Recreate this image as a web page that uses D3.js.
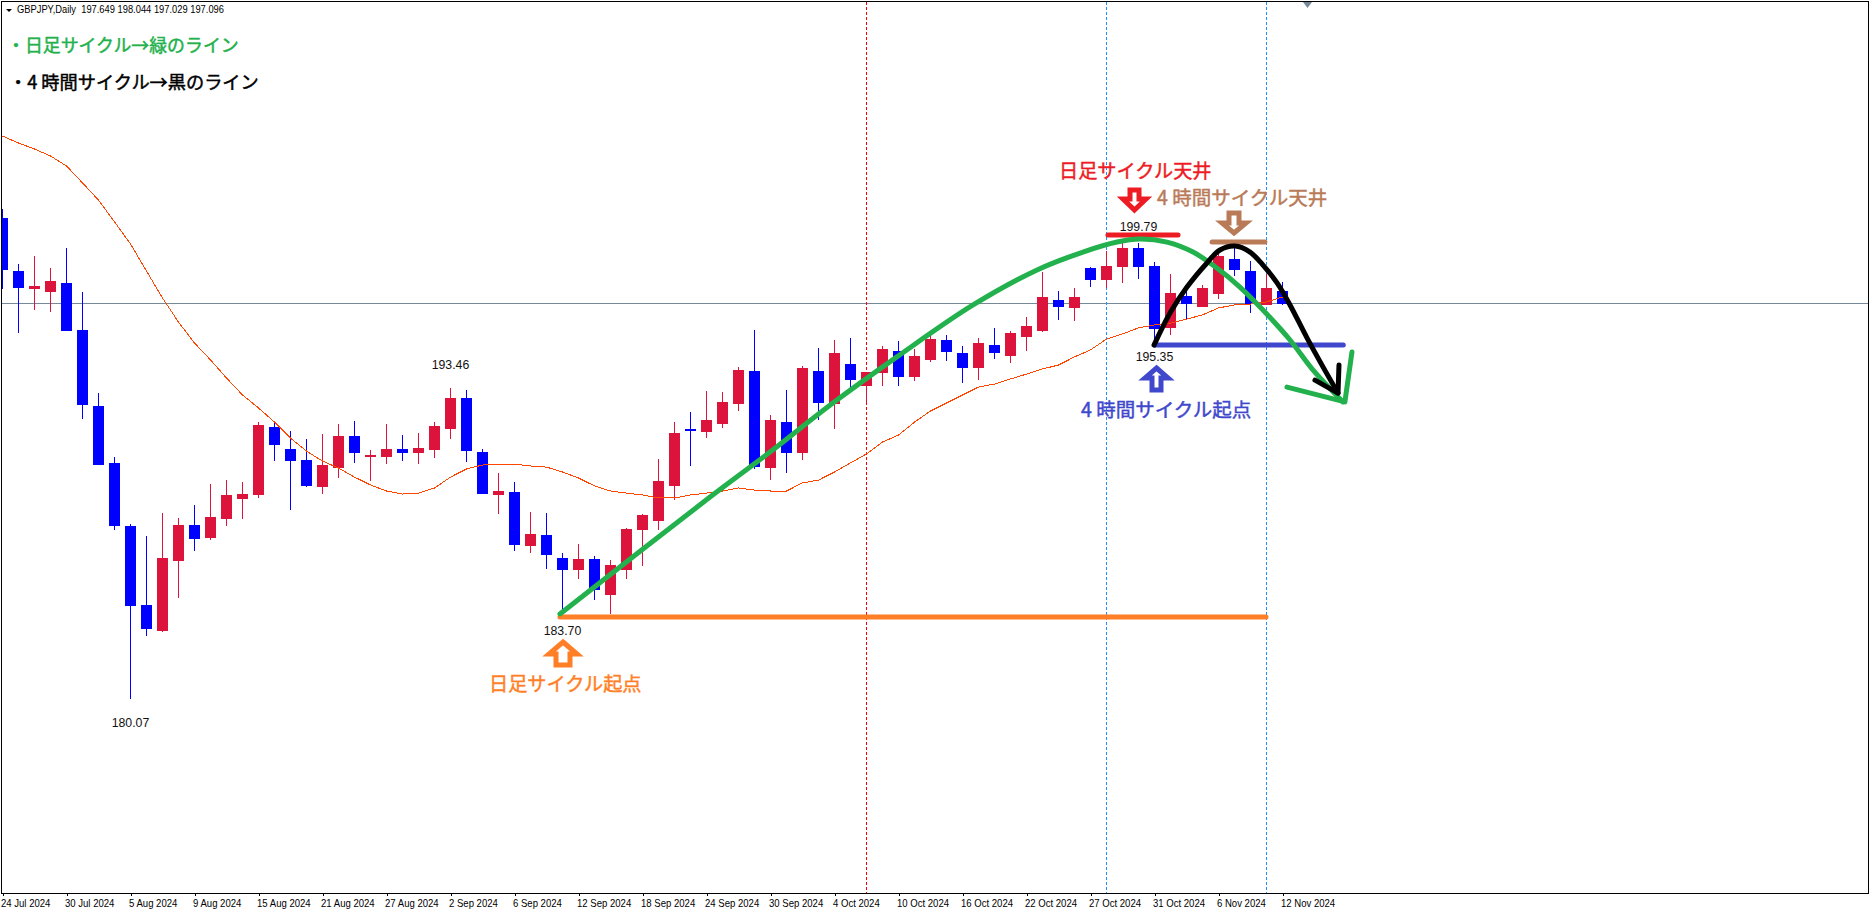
<!DOCTYPE html>
<html lang="ja">
<head>
<meta charset="utf-8">
<script src="https://cdn.jsdelivr.net/npm/d3@7"></script>
<style>
html,body{margin:0;padding:0;background:#fff;overflow:hidden}
svg{display:block}
.jp{font-family:"Noto Sans CJK JP","Noto Sans",sans-serif;font-weight:400;stroke-width:.45px}
.px{font-family:"Liberation Sans",Arial,sans-serif;font-size:12.3px;fill:#111}
.axis text{font-family:"Liberation Sans",Arial,sans-serif;fill:#000}
</style>
</head>
<body>
<div id="chart"></div>
<script>
// Daily GBPJPY candles, one entry per trading day, oldest first
const opens = [200.79,198.50,197.73,197.60,197.99,195.96,192.68,190.23,187.51,184.11,182.99,186.00,187.55,186.99,187.81,188.68,188.85,191.78,190.83,190.36,189.19,190.01,191.39,190.49,190.49,190.83,190.66,190.79,191.69,193.03,190.70,188.85,188.98,186.65,187.12,186.13,185.62,186.09,184.54,185.62,187.34,187.73,189.24,191.69,191.56,191.91,192.77,194.19,190.01,191.99,190.66,194.19,192.77,194.49,193.55,194.11,195.05,193.93,194.67,195.53,194.97,194.32,195.31,194.84,195.66,195.92,197.25,196.91,198.63,198.12,198.68,199.49,198.72,196.05,197.43,196.95,197.51,199.02,198.50,197.04,197.649];
const highs = [201.18,198.80,199.15,198.63,199.49,197.60,193.24,190.49,187.60,187.08,188.07,187.86,188.42,189.32,189.49,189.41,191.99,191.99,191.61,191.26,191.48,191.91,192.04,190.79,191.91,191.43,191.52,191.99,193.46,193.37,190.83,189.80,189.41,188.12,188.07,186.35,186.74,186.22,186.05,187.43,188.03,190.40,191.99,192.43,193.33,193.29,194.37,195.96,192.30,193.37,194.41,195.18,195.53,195.62,194.15,195.27,195.49,195.14,195.74,195.74,195.27,195.62,196.05,195.92,196.52,198.46,197.64,197.77,198.68,199.37,199.79,199.71,198.89,198.37,197.68,197.90,199.41,199.62,198.93,198.37,198.044];
const lows = [197.73,195.83,196.82,196.74,195.92,192.12,190.14,187.34,180.07,182.77,182.94,184.41,186.43,186.91,187.51,187.81,188.72,190.31,188.20,189.19,188.89,189.58,190.23,189.45,190.18,190.31,190.18,190.44,191.26,190.27,188.89,188.03,186.43,186.35,185.66,183.70,185.23,184.32,183.72,185.23,185.79,187.34,188.63,190.10,191.30,191.74,192.47,189.97,189.49,189.80,190.36,192.08,191.69,193.37,192.86,193.55,193.55,193.76,194.58,194.62,193.68,193.80,194.71,194.54,195.05,195.87,196.39,196.35,197.81,197.77,197.99,198.16,195.35,195.74,196.39,196.95,197.30,198.29,196.69,197.04,197.029];
const closes = [198.55,197.77,197.86,198.07,195.92,192.73,190.14,187.51,184.06,183.07,186.13,187.55,186.95,187.90,188.85,188.89,191.87,191.00,190.31,189.24,190.14,191.39,190.66,190.57,190.83,190.66,190.87,191.82,193.03,190.74,188.89,189.02,186.69,187.17,186.26,185.62,186.09,184.75,185.83,187.38,187.99,189.45,191.52,191.61,192.08,192.86,194.24,190.05,192.08,190.66,194.32,192.81,194.97,193.80,194.15,195.14,193.93,194.84,195.57,195.01,194.32,195.40,194.97,195.83,196.13,197.38,196.95,197.38,198.12,198.72,199.49,198.68,196.00,197.55,197.08,197.77,199.15,198.55,197.08,197.77,197.096];
const maValues = [204.32,204.02,203.76,203.46,203.03,202.30,201.56,200.62,199.67,198.50,197.34,196.30,195.40,194.67,193.89,193.16,192.60,191.99,191.30,190.74,190.31,190.01,189.62,189.28,189.02,188.89,188.93,189.15,189.62,189.97,190.14,190.18,190.18,190.10,190.05,189.84,189.58,189.24,189.02,188.93,188.85,188.72,188.72,188.85,188.93,189.02,189.15,189.06,189.02,189.02,189.37,189.49,189.84,190.23,190.62,191.13,191.43,191.99,192.47,192.81,193.16,193.50,193.63,193.85,194.06,194.28,194.45,194.80,195.10,195.57,195.79,196.05,196.18,196.26,196.43,196.61,196.91,197.04,197.08,197.17,197.38];
const tickLabels = ["24 Jul 2024","30 Jul 2024","5 Aug 2024","9 Aug 2024","15 Aug 2024","21 Aug 2024","27 Aug 2024","2 Sep 2024","6 Sep 2024","12 Sep 2024","18 Sep 2024","24 Sep 2024","30 Sep 2024","4 Oct 2024","10 Oct 2024","16 Oct 2024","22 Oct 2024","27 Oct 2024","31 Oct 2024","6 Nov 2024","12 Nov 2024"];
const barsPerTick = 4;
const currentPrice = 197.096;
const redVerticals = [54];
const blueVerticals = [69, 79];
// Hand-drawn cycle curves as [bar index, price]
const greenCurve = [[34.84,183.72],[44.22,188.76],[47.97,190.70],[51.9,192.81],[55.9,194.80],[60.66,197.04],[64.66,198.55],[67.53,199.32],[69.66,199.75],[71.09,199.88],[72.78,199.75],[74.41,199.32],[75.9,198.63],[77.34,197.81],[78.78,196.82],[80.47,195.53],[81.9,194.24],[83.78,192.86]];
const greenHead = [[80.28,193.50],[83.9,192.86],[84.34,195.01]];
const blackCurve = [[71.97,195.31],[72.97,196.69],[74.03,197.81],[75.28,198.85],[76.09,199.41],[77.03,199.58],[77.97,199.32],[78.78,198.76],[79.66,197.99],[80.47,197.04],[81.53,195.62],[82.53,194.37],[83.47,193.24]];
const blackHead = [[82.03,193.80],[83.47,193.24],[83.53,194.45]];
const levelLines = [
  {from:34.84,to:78.97,price:183.59,color:"#ff7f27"},
  {from:69.09,to:73.47,price:200.05,color:"#ed1c24"},
  {from:75.6,to:78.9,price:199.75,color:"#b97a57"},
  {from:72.0,to:83.8,price:195.31,color:"#3f48cc"}
];
const priceLabels = [
  {text:"180.07",bar:8,price:180.07,dy:28},
  {text:"193.46",bar:28,price:193.46,dy:-19},
  {text:"183.70",bar:35,price:183.70,dy:21},
  {text:"199.79",bar:71,price:199.79,dy:-10},
  {text:"195.35",bar:72,price:195.35,dy:17}
];

const W = 1870, H = 910, left = 2, top_ = 2, right_ = 1868, bottom = 893;
const svg = d3.select("#chart").append("svg").attr("width",W).attr("height",H).attr("viewBox",`0 0 ${W} ${H}`);
const x = d3.scaleLinear().domain([0,80]).range([2.5,1282.5]);
const y = d3.scaleLinear().domain([193.46,180.07]).range([388,698.65]);
const bars = closes.map((c,i)=>({i,o:opens[i],h:highs[i],l:lows[i],c}));
const bull = "#dc143c", bear = "#0000ff";

svg.append("defs").append("clipPath").attr("id","plot").append("rect").attr("x",left).attr("y",top_).attr("width",right_-left).attr("height",bottom-top_);
const plot = svg.append("g").attr("clip-path","url(#plot)");

// current price line
plot.append("line").attr("x1",left).attr("x2",right_).attr("y1",Math.floor(y(currentPrice))+.5).attr("y2",Math.floor(y(currentPrice))+.5)
  .attr("stroke","#778899").attr("stroke-width",1).attr("shape-rendering","crispEdges");

// vertical dotted lines
const vert = (arr,color)=>plot.append("g").selectAll("line").data(arr).join("line")
  .attr("x1",d=>Math.floor(x(d))+.5).attr("x2",d=>Math.floor(x(d))+.5).attr("y1",top_).attr("y2",bottom)
  .attr("stroke",color).attr("stroke-width",1).attr("stroke-dasharray","3,2").attr("shape-rendering","crispEdges");
vert(redVerticals,"#ff0000");
vert(blueVerticals,"#1e90ff");

// candles
const col = d=>d.c>=d.o?bull:bear;
const cg = plot.append("g").attr("shape-rendering","crispEdges");
cg.selectAll("rect.w").data(bars).join("rect").attr("class","w")
  .attr("x",d=>Math.floor(x(d.i))).attr("width",1)
  .attr("y",d=>Math.round(y(d.h))).attr("height",d=>Math.max(1,Math.round(y(d.l))-Math.round(y(d.h))))
  .attr("fill",col);
cg.selectAll("rect.b").data(bars).join("rect").attr("class","b")
  .attr("x",d=>Math.floor(x(d.i))-5).attr("width",11)
  .attr("y",d=>Math.round(y(Math.max(d.o,d.c)))).attr("height",d=>Math.max(1,Math.round(y(Math.min(d.o,d.c)))-Math.round(y(Math.max(d.o,d.c)))))
  .attr("fill",col);

// moving average
plot.append("path").datum(maValues).attr("fill","none").attr("stroke","#ff4500").attr("stroke-width",1).attr("shape-rendering","crispEdges")
  .attr("d",d3.line().x((d,i)=>x(i)).y(d=>y(d)));

// axis
const axis = d3.axisBottom(x).tickValues(tickLabels.map((_,i)=>i*barsPerTick)).tickFormat((d,i)=>tickLabels[i]).tickSize(3).tickSizeOuter(0);
const ag = svg.append("g").attr("class","axis").attr("transform",`translate(0,${bottom})`).call(axis);
ag.select(".domain").remove();
ag.selectAll("line").attr("stroke","#000").attr("shape-rendering","crispEdges");
ag.selectAll("text").attr("text-anchor","start").attr("dx",-2).attr("y",7).attr("dy","0.71em").attr("font-size",10.5)
  .each(function(){ d3.select(this).attr("lengthAdjust","spacingAndGlyphs").attr("textLength",this.getComputedTextLength()*0.91); });

// frame
svg.append("rect").attr("x",1.5).attr("y",1.5).attr("width",right_-1.5+0).attr("height",bottom-1.5).attr("fill","none").attr("stroke","#000").attr("stroke-width",1).attr("shape-rendering","crispEdges");

// level lines
const lv = svg.append("g");
lv.selectAll("line").data(levelLines).join("line")
  .attr("x1",d=>x(d.from)).attr("x2",d=>x(d.to)).attr("y1",d=>y(d.price)).attr("y2",d=>y(d.price))
  .attr("stroke",d=>d.color).attr("stroke-width",5).attr("stroke-linecap","round");

// hand-drawn curves
const lineP = d3.line().x(d=>x(d[0])).y(d=>y(d[1]));
const lineC = d3.line().x(d=>x(d[0])).y(d=>y(d[1])).curve(d3.curveCatmullRom.alpha(0.5));
const cur = (data,gen,color)=>svg.append("path").datum(data).attr("fill","none").attr("stroke",color).attr("stroke-width",5)
  .attr("stroke-linecap","round").attr("stroke-linejoin","round").attr("d",gen);
cur(greenCurve,lineC,"#22b14c");
cur(greenHead,lineP,"#22b14c");
cur(blackCurve,lineC,"#000");
cur(blackHead,lineP,"#000");

// block arrows
function blockArrow(cx,tip,wing,base,hw,hs,color){
  const p = d3.path();
  p.moveTo(cx,tip); p.lineTo(cx+hw,wing); p.lineTo(cx+hs,wing); p.lineTo(cx+hs,base);
  p.lineTo(cx-hs,base); p.lineTo(cx-hs,wing); p.lineTo(cx-hw,wing); p.closePath();
  svg.append("path").attr("d",p.toString()).attr("fill","#fff").attr("stroke",color).attr("stroke-width",5).attr("stroke-linejoin","miter");
}
blockArrow(1134.5,210,199,190,11.5,4.5,"#ed1c24");
blockArrow(1234,233,223,213,12,5,"#b97a57");
blockArrow(1156.5,368,378,390,11.5,4.5,"#3f48cc");
blockArrow(563,642,654,665,14,7,"#ff7f27");

// text
svg.append("g").selectAll("text").data(priceLabels).join("text").attr("class","px")
  .attr("text-anchor","middle").attr("x",d=>x(d.bar)).attr("y",d=>y(d.price)+d.dy).text(d=>d.text);

svg.append("path").attr("d","M6,9L12,9L9,12Z").attr("fill","#000");
svg.append("text").attr("x",17).attr("y",13).attr("font-family","Liberation Sans").attr("font-size",10.5).attr("textLength",207).attr("lengthAdjust","spacingAndGlyphs").style("white-space","pre").attr("fill","#000").text("GBPJPY,Daily  197.649 198.044 197.029 197.096");
svg.append("path").attr("d","M1303,2L1312,2L1307.5,8Z").attr("fill","#778899");

const notes = [
  {t:"・日足サイクル→緑のライン",x:7,y:52,c:"#22b14c",s:17.9},
  {t:"・4 時間サイクル→黒のライン",x:9,y:89,c:"#000",s:18.2},
  {t:"日足サイクル起点",x:489,y:691,c:"#ff7f27",s:19.2},
  {t:"日足サイクル天井",x:1059,y:178,c:"#ed1c24",s:19.2},
  {t:"4 時間サイクル天井",x:1157,y:205,c:"#b97a57",s:19.5},
  {t:"4 時間サイクル起点",x:1081,y:417,c:"#3f48cc",s:19.5}
];
svg.append("g").selectAll("text").data(notes).join("text").attr("class","jp")
  .attr("x",d=>d.x).attr("y",d=>d.y).attr("fill",d=>d.c).attr("stroke",d=>d.c).attr("font-size",d=>d.s).text(d=>d.t);
</script>
</body>
</html>
